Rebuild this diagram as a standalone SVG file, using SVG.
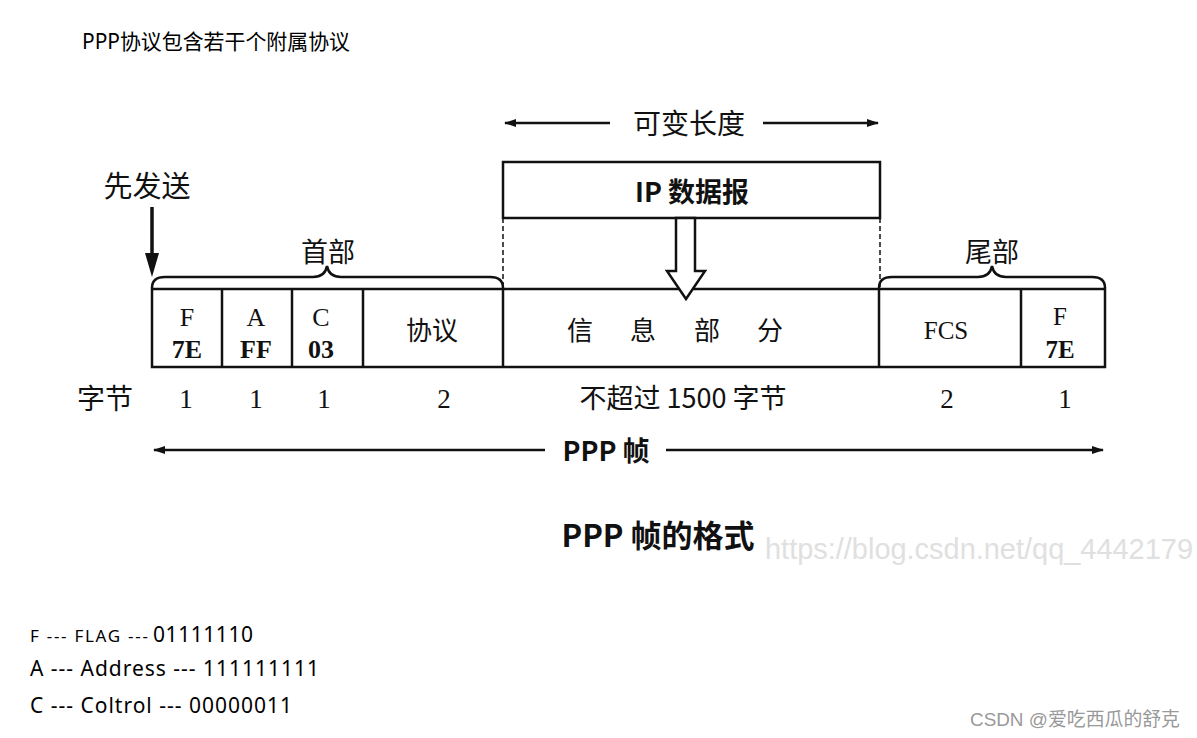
<svg xmlns="http://www.w3.org/2000/svg" width="1197" height="738" viewBox="0 0 1197 738">
<style>
.ser{font-family:"Liberation Serif","Noto Sans CJK SC",serif;fill:#111}
.cjk{font-family:"Noto Sans CJK SC","Liberation Serif",serif;fill:#111}
.sans{font-family:"Noto Sans","Open Sans","Noto Sans CJK SC",sans-serif;fill:#000}
.ln{stroke:#111;stroke-width:2.5;fill:none}
.dash{stroke:#111;stroke-width:1.5;stroke-dasharray:5 3;fill:none}
</style>
<defs>
<marker id="ah" viewBox="0 0 12 8" refX="11" refY="4" markerWidth="12" markerHeight="8" markerUnits="userSpaceOnUse" orient="auto-start-reverse">
<path d="M0,0 L12,4 L0,8 Z" fill="#111"/>
</marker>
</defs>
<rect width="1197" height="738" fill="#fff"/>

<text class="sans" x="82" y="49" font-size="21" textLength="268" lengthAdjust="spacingAndGlyphs">PPP协议包含若干个附属协议</text>

<g id="connectors">
<line class="ln" x1="505" y1="123" x2="610" y2="123" marker-start="url(#ah)"/>
<line class="ln" x1="763" y1="123" x2="878" y2="123" marker-end="url(#ah)"/>
<line stroke="#111" stroke-width="3.5" x1="152" y1="207" x2="152" y2="256"/>
<path d="M145,253 L159,253 L152,277 Z" fill="#111"/>
<line class="dash" x1="503" y1="218" x2="503" y2="289"/>
<line class="dash" x1="880" y1="218" x2="880" y2="289"/>
<line class="ln" x1="154" y1="450" x2="545" y2="450" marker-start="url(#ah)"/>
<line class="ln" x1="666" y1="450" x2="1103" y2="450" marker-end="url(#ah)"/>
</g>

<g id="send">
<text class="cjk" x="147" y="197" font-size="29" text-anchor="middle">先发送</text>
</g>

<g id="variable">
<text class="cjk" x="689" y="134" font-size="28" text-anchor="middle">可变长度</text>
</g>

<g id="ip-box">
<rect x="503" y="162" width="377" height="56" fill="#fff" stroke="#111" stroke-width="2.5"/>
<text class="cjk" x="692" y="202" font-size="27" font-weight="bold" text-anchor="middle">IP 数据报</text>
</g>

<g id="header-brace">
<path class="ln" d="M152,288 Q152,277 165,277 L313,277 Q325,277 327,266 Q329,277 341,277 L490,277 Q503,277 503,288"/>
<text class="cjk" x="328" y="262" font-size="27" text-anchor="middle">首部</text>
</g>

<g id="tail-brace">
<path class="ln" d="M879,288 Q879,277 892,277 L978,277 Q990,277 992,266 Q994,277 1006,277 L1092,277 Q1105,277 1105,288"/>
<text class="cjk" x="992" y="262" font-size="27" text-anchor="middle">尾部</text>
</g>

<g id="frame">
<rect x="152" y="289" width="953" height="78" fill="#fff" stroke="#111" stroke-width="2.5"/>
<line class="ln" x1="222" y1="289" x2="222" y2="367"/>
<line class="ln" x1="292" y1="289" x2="292" y2="367"/>
<line class="ln" x1="363" y1="289" x2="363" y2="367"/>
<line class="ln" x1="503" y1="289" x2="503" y2="367"/>
<line class="ln" x1="879" y1="289" x2="879" y2="367"/>
<line class="ln" x1="1021" y1="289" x2="1021" y2="367"/>
</g>

<g id="cell-F">
<text class="ser" x="187" y="326" font-size="26" text-anchor="middle">F</text>
<text class="ser" x="187" y="358" font-size="26" font-weight="bold" text-anchor="middle">7E</text>
</g>
<g id="cell-A">
<text class="ser" x="256" y="326" font-size="26" text-anchor="middle">A</text>
<text class="ser" x="256" y="358" font-size="26" font-weight="bold" text-anchor="middle">FF</text>
</g>
<g id="cell-C">
<text class="ser" x="321" y="326" font-size="26" text-anchor="middle">C</text>
<text class="ser" x="321" y="358" font-size="26" font-weight="bold" text-anchor="middle">03</text>
</g>
<g id="cell-proto">
<text class="cjk" x="432" y="340" font-size="26" text-anchor="middle">协议</text>
</g>
<g id="cell-info">
<text class="cjk" x="580" y="340" font-size="26" text-anchor="middle">信</text>
<text class="cjk" x="643" y="340" font-size="26" text-anchor="middle">息</text>
<text class="cjk" x="707" y="340" font-size="26" text-anchor="middle">部</text>
<text class="cjk" x="770" y="340" font-size="26" text-anchor="middle">分</text>
</g>
<g id="cell-fcs">
<text class="ser" x="946" y="339" font-size="25" text-anchor="middle">FCS</text>
</g>
<g id="cell-F2">
<text class="ser" x="1060" y="325" font-size="25" text-anchor="middle">F</text>
<text class="ser" x="1060" y="358" font-size="25" font-weight="bold" text-anchor="middle">7E</text>
</g>

<g id="ip-arrow">
<polygon points="676,218 676,271 667,271 686,299 705,271 695,271 695,218" fill="#fff" stroke="#111" stroke-width="2.5" stroke-linejoin="miter"/>
</g>

<g id="bytes">
<text class="cjk" x="105" y="409" font-size="28" text-anchor="middle">字节</text>
<text class="ser" x="186" y="408" font-size="27" text-anchor="middle">1</text>
<text class="ser" x="256" y="408" font-size="27" text-anchor="middle">1</text>
<text class="ser" x="324" y="408" font-size="27" text-anchor="middle">1</text>
<text class="ser" x="444" y="408" font-size="27" text-anchor="middle">2</text>
<text class="cjk" x="683" y="408" font-size="27" text-anchor="middle">不超过 1500 字节</text>
<text class="ser" x="947" y="408" font-size="27" text-anchor="middle">2</text>
<text class="ser" x="1065" y="408" font-size="27" text-anchor="middle">1</text>
</g>

<g id="ppp-frame">
<text class="cjk" x="606" y="461" font-size="27" font-weight="bold" text-anchor="middle">PPP 帧</text>
</g>

<g id="caption">
<text class="cjk" x="658" y="547" font-size="31" font-weight="bold" text-anchor="middle">PPP 帧的格式</text>
<text x="765" y="559" font-family="Liberation Sans, sans-serif" font-size="29" fill="#e0e0e0" textLength="428" lengthAdjust="spacingAndGlyphs">https://blog.csdn.net/qq_4442179</text>
</g>

<g id="legend">
<text class="sans" x="30" y="642" font-size="17" textLength="118" lengthAdjust="spacing">F --- FLAG ---</text>
<text class="sans" x="153" y="642" font-size="21" textLength="100" lengthAdjust="spacing">01111110</text>
<text class="sans" x="30" y="676" font-size="21" textLength="289" lengthAdjust="spacing">A --- Address --- 111111111</text>
<text class="sans" x="30" y="713" font-size="21" textLength="262" lengthAdjust="spacing">C --- Coltrol --- 00000011</text>
</g>

<text x="970" y="726" font-family="Liberation Sans, Noto Sans CJK SC, sans-serif" font-size="19" fill="#999" textLength="210" lengthAdjust="spacingAndGlyphs">CSDN @爱吃西瓜的舒克</text>
</svg>
